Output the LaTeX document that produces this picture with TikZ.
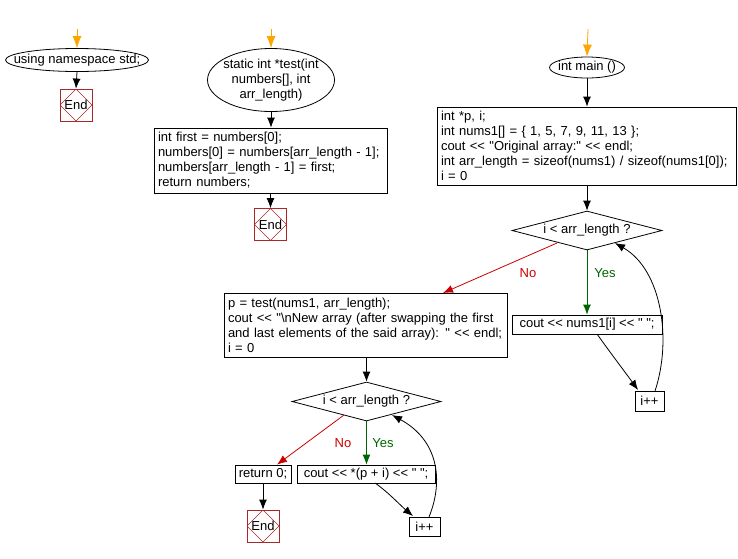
\documentclass[tikz,border=0pt]{standalone}
\usepackage{fontspec}
\setmainfont{Liberation Sans}[Ligatures=TeXOff]
\usetikzlibrary{shapes.geometric,arrows.meta}
\definecolor{endred}{RGB}{170,40,40}
\definecolor{nored}{RGB}{204,0,0}
\definecolor{yesgreen}{RGB}{0,100,0}
\definecolor{startor}{RGB}{255,165,0}
\tikzset{
  base/.style={font=\fontsize{13}{15}\selectfont, inner sep=0pt},
  proc/.style={base, draw, rectangle, line width=0.8pt},
  textbox/.style={proc, inner xsep=4pt, align=left, text width=#1},
  oval/.style={base, draw, ellipse, line width=0.8pt},
  dec/.style={base, draw, diamond, line width=0.8pt, minimum width=150, minimum height=39, shape aspect=3.85},
  endbox/.style={base, draw=endred, rectangle, line width=0.8pt, minimum width=32, minimum height=32,
    path picture={\draw[endred, line width=0.6pt] (path picture bounding box.north) -- (path picture bounding box.east) -- (path picture bounding box.south) -- (path picture bounding box.west) -- cycle;}},
  arr/.style={-{Latex[length=10pt,width=8pt]}, line width=0.8pt},
  startarr/.style={arr, draw=startor, -{Latex[length=12pt,width=9pt,color=startor]}},
  noarr/.style={arr, draw=nored, -{Latex[length=10pt,width=8pt,color=nored]}},
  yesarr/.style={arr, draw=yesgreen, -{Latex[length=10pt,width=8pt,color=yesgreen]}},
  nolab/.style={base, text=nored},
  yeslab/.style={base, text=yesgreen},
}
\begin{document}
\begin{tikzpicture}[x=1pt,y=-1pt]
\useasboundingbox (0,0) rectangle (738,558);
% column 1
\coordinate (s1) at (77,29);
\node[oval, minimum width=143, minimum height=23] (ns) at (77,60) {\makebox[0pt]{using namespace std;}};
\node[endbox] (end1) at (76,105) {End};
\draw[startarr] (s1) -- (ns.north);
\draw[arr] (ns.south) -- (end1.north);
% column 2
\coordinate (s2) at (271,29);
\node[oval, minimum width=127, minimum height=63,
  label={[base, align=center]center:{static int *test(int\\numbers[], int\\arr\_length)}}] (test) at (271,80) {};
\node[textbox=225pt, minimum height=65] (tbody) at (270.5,160.5) {int first = numbers[0];\\numbers[0] = numbers[arr\_length - 1];\\numbers[arr\_length - 1] = first;\\return numbers;};
\node[endbox] (end2) at (270.5,224.5) {End};
\draw[startarr] (s2) -- (test.north);
\draw[arr] (test.south) -- (tbody.north -| test.south);
\draw[arr] (tbody.south -| end2.north) -- (end2.north);
% main
\coordinate (s3) at (588,29);
\node[oval, minimum width=75, minimum height=21] (main) at (587,67.5) {\makebox[0pt]{int main ()}};
\node[textbox=291pt, minimum height=78] (mbody) at (586.5,146) {int *p, i;\\int nums1[] = \{ 1, 5, 7, 9, 11, 13 \};\\cout << "Original array:" << endl;\\int arr\_length = sizeof(nums1) / sizeof(nums1[0]);\\i = 0};
\node[dec] (d1) at (587,230.5) {\makebox[0pt]{i < arr\_length ?}};
\node[proc, minimum width=150, minimum height=19] (c1) at (587,324.5) {cout << nums1[i] << " ";};
\node[proc, minimum width=29, minimum height=20] (inc1) at (649.5,401) {i++};
\draw[startarr] (s3) -- (main.north);
\draw[arr] (main.south) -- (mbody.north -| main.south);
\draw[arr] (mbody.south -| d1.north) -- (d1.north);
\draw[yesarr] (d1.south) -- (c1.north);
\node[yeslab] at (605,273) {Yes};
\coordinate (c1o) at (597,334);
\coordinate (inc1i) at (638,390);
\draw[arr] (c1o) .. controls (612,355) and (625,372) .. (inc1i);
\coordinate (inc1o) at (655,391);
\coordinate (d1in) at (615,243);
\draw[arr] (inc1o) .. controls (672,340) and (662,270) .. (d1in);
% p box
\node[textbox=275pt, minimum height=64] (pbody) at (365.5,325) {p = test(nums1, arr\_length);\\cout << "\textbackslash nNew array (after swapping the first\\and last elements of the said array): " << endl;\\i = 0};
\coordinate (d1no) at (557,243);
\coordinate (pin) at (443,293);
\draw[noarr] (d1no) -- (pin);
\node[nolab] at (528,273) {No};
% second loop
\node[dec, minimum width=149] (d2) at (366.5,401.5) {\makebox[0pt]{i < arr\_length ?}};
\draw[arr] (pbody.south -| d2.north) -- (d2.north);
\node[proc, minimum width=138, minimum height=18] (c2) at (366,474) {cout << *(p + i) << " ";};
\node[proc, minimum width=56, minimum height=18] (ret) at (263,474) {return 0;};
\node[endbox] (end3) at (263,526) {End};
\node[proc, minimum width=31, minimum height=19] (inc2) at (424.5,526.5) {i++};
\draw[yesarr] (d2.south) -- (c2.north -| d2.south);
\node[yeslab] at (383,443) {Yes};
\coordinate (d2no) at (344,415);
\draw[noarr] (d2no) -- (ret.north -| 277,0);
\node[nolab] at (343,443) {No};
\draw[arr] (ret.south) -- (end3.north);
\coordinate (c2o) at (375,483);
\coordinate (inc2i) at (413,516);
\draw[arr] (c2o) .. controls (388,492) and (400,505) .. (inc2i);
\coordinate (inc2o) at (429,517);
\coordinate (d2in) at (392,415);
\draw[arr] (inc2o) .. controls (444,480) and (438,440) .. (d2in);
\end{tikzpicture}
\end{document}
